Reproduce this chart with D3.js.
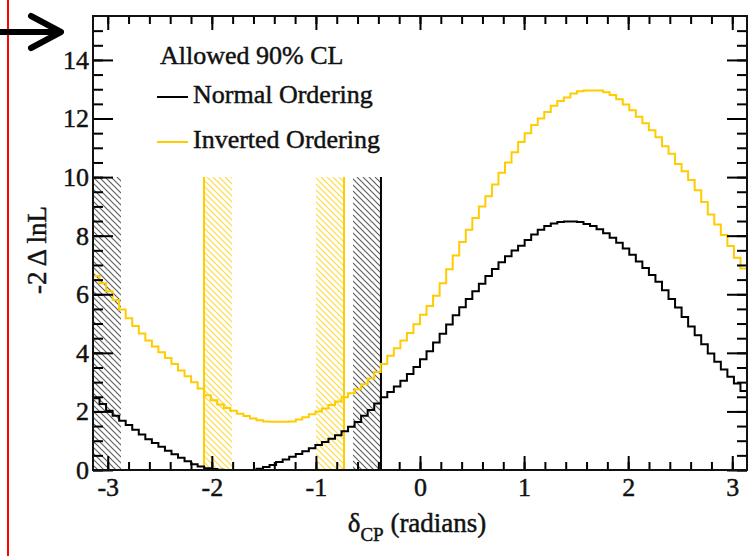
<!DOCTYPE html>
<html>
<head>
<meta charset="utf-8">
<script src="https://cdn.jsdelivr.net/npm/d3@7"></script>
<style>
  body { margin: 0; background: #fff; }
  svg { display: block; font-family: "Liberation Serif", "Times New Roman", serif; }
  svg text { stroke: #111; stroke-width: 0.45px; }
</style>
</head>
<body>
<svg id="chart" width="751" height="556"></svg>
<script>

// -2 delta lnL per delta_CP bin (100 bins over -pi..pi)
const normalOrdering = [
  2.45, 2.25, 2.02, 1.85, 1.68, 1.54, 1.37, 1.21, 1.05, 0.92,
  0.79, 0.66, 0.54, 0.42, 0.30, 0.20, 0.12, 0.06, 0.03, 0.01,
  0.00, 0.00, 0.00, 0.00, 0.00, 0.04, 0.10, 0.17, 0.27, 0.36,
  0.45, 0.55, 0.64, 0.74, 0.85, 0.96, 1.07, 1.19, 1.32, 1.48,
  1.64, 1.85, 2.05, 2.27, 2.48, 2.66, 2.85, 3.05, 3.28, 3.52,
  3.78, 4.05, 4.35, 4.65, 4.97, 5.28, 5.56, 5.84, 6.10, 6.36,
  6.62, 6.86, 7.09, 7.30, 7.49, 7.66, 7.85, 8.04, 8.20, 8.33,
  8.42, 8.47, 8.48, 8.48, 8.47, 8.40, 8.33, 8.22, 8.08, 7.93,
  7.76, 7.56, 7.35, 7.12, 6.90, 6.66, 6.43, 6.14, 5.84, 5.55,
  5.22, 4.90, 4.60, 4.29, 3.98, 3.70, 3.43, 3.18, 2.95, 2.70
]

const invertedOrdering = [
  6.62, 6.38, 6.10, 5.80, 5.48, 5.18, 4.92, 4.66, 4.42, 4.22,
  4.02, 3.82, 3.62, 3.40, 3.20, 3.00, 2.78, 2.55, 2.38, 2.24,
  2.12, 2.02, 1.92, 1.84, 1.76, 1.70, 1.66, 1.65, 1.65, 1.65,
  1.66, 1.72, 1.80, 1.90, 2.00, 2.10, 2.22, 2.34, 2.48, 2.62,
  2.76, 2.93, 3.12, 3.35, 3.62, 3.90, 4.16, 4.42, 4.68, 4.98,
  5.30, 5.60, 5.95, 6.38, 6.85, 7.32, 7.78, 8.20, 8.60, 9.00,
  9.35, 9.75, 10.15, 10.50, 10.85, 11.20, 11.50, 11.78, 12.00, 12.22,
  12.44, 12.60, 12.72, 12.85, 12.93, 12.96, 12.96, 12.96, 12.90, 12.80,
  12.66, 12.48, 12.28, 12.06, 11.84, 11.60, 11.36, 11.05, 10.80, 10.45,
  10.20, 9.90, 9.55, 9.15, 8.72, 8.38, 8.02, 7.65, 7.25, 6.88
]

// 90% CL boundaries, hatch drawn on the side given
const normalLimits = [-3.1416, -0.375]
const normalSides = [1, -1]
const invertedLimits = [-2.075, -0.73]
const invertedSides = [1, -1]
const limitHeight = 10

const xMajorTicks = [-3, -2, -1, 0, 1, 2, 3]
const yMajorTicks = [0, 2, 4, 6, 8, 10, 12, 14]

const legendTitle = "Allowed 90% CL"
const legendLabels = ["Normal Ordering", "Inverted Ordering"]

const black = "#000000",
      gold = "#ffcc00"

const svg = d3.select("#chart")

const x = d3.scaleLinear().domain([-Math.PI, Math.PI]).range([93, 747])
const y = d3.scaleLinear().domain([0, 15.5]).range([470, 16])

const xMinorTicks = d3.range(-30, 31, 2).map(d => d / 10)
const yMinorTicks = d3.range(0, 31).map(d => d / 2)

//
// Hatch patterns
//

const defs = svg.append("defs")

function hatch(id, color, opacity) {
  defs.append("pattern")
      .attr("id", id)
      .attr("patternUnits", "userSpaceOnUse")
      .attr("width", 6)
      .attr("height", 6)
    .append("path")
      .attr("d", "M-1,-1L7,7M-1,5L1,7M5,-1L7,1")
      .attr("stroke", color)
      .attr("stroke-opacity", opacity)
      .attr("stroke-width", 1.2)
}
hatch("hatch-normal", "#444", 0.85)
hatch("hatch-inverted", gold, 0.75)

defs.append("clipPath")
    .attr("id", "frame-clip")
  .append("rect")
    .attr("x", x.range()[0])
    .attr("y", y.range()[1])
    .attr("width", x.range()[1] - x.range()[0])
    .attr("height", y.range()[0] - y.range()[1])

const plot = svg.append("g").attr("clip-path", "url(#frame-clip)")

function limits(values, sides, color, pattern) {
  const bandWidth = 28
  values.forEach((v, i) => {
    const x0 = x(v)
    plot.append("rect")
        .attr("x", sides[i] > 0 ? x0 : x0 - bandWidth)
        .attr("y", y(limitHeight))
        .attr("width", bandWidth)
        .attr("height", y(0) - y(limitHeight))
        .attr("fill", "url(#" + pattern + ")")
    plot.append("line")
        .attr("x1", x0).attr("x2", x0)
        .attr("y1", y(0)).attr("y2", y(limitHeight))
        .attr("stroke", color)
        .attr("stroke-width", 2)
  })
}
limits(normalLimits, normalSides, black, "hatch-normal")
limits(invertedLimits, invertedSides, gold, "hatch-inverted")

//
// Histograms
//

function steps(values) {
  const n = values.length,
        w = 2 * Math.PI / n
  const pts = values.map((v, i) => [-Math.PI + i * w, v])
  pts.push([Math.PI, values[n - 1]])
  return pts
}

const line = d3.line()
    .x(d => x(d[0]))
    .y(d => y(d[1]))
    .curve(d3.curveStepAfter)

plot.append("path")
    .attr("d", line(steps(invertedOrdering)))
    .attr("fill", "none")
    .attr("stroke", gold)
    .attr("stroke-width", 2)

plot.append("path")
    .attr("d", line(steps(normalOrdering)))
    .attr("fill", "none")
    .attr("stroke", black)
    .attr("stroke-width", 2)

//
// Axes, ROOT style (ticks inside on all four sides)
//

function axis(gen, translate, values, size, labels) {
  const g = svg.append("g")
      .attr("transform", translate)
      .call(gen.tickValues(values).tickSize(-size)
        .tickFormat(labels ? d => String(d) : ""))
  g.select(".domain").remove()
  g.attr("font-family", null).attr("font-size", 26)
  g.selectAll("line").attr("stroke-width", 2)
  g.selectAll("text").attr("fill", "#111")
  return g
}

const frameBottom = y(0), frameTop = y.range()[1],
      frameLeft = x.range()[0], frameRight = x.range()[1]

axis(d3.axisBottom(x), `translate(0,${frameBottom})`, xMinorTicks, 8, false)
axis(d3.axisBottom(x).tickPadding(8), `translate(0,${frameBottom})`, xMajorTicks, 14, true)
axis(d3.axisTop(x), `translate(0,${frameTop})`, xMinorTicks, 8, false)
axis(d3.axisTop(x), `translate(0,${frameTop})`, xMajorTicks, 14, false)

axis(d3.axisLeft(y), `translate(${frameLeft},0)`, yMinorTicks, 10, false)
axis(d3.axisLeft(y).tickPadding(4), `translate(${frameLeft},0)`, yMajorTicks, 20, true)
axis(d3.axisRight(y), `translate(${frameRight},0)`, yMinorTicks, 10, false)
axis(d3.axisRight(y), `translate(${frameRight},0)`, yMajorTicks, 20, false)

svg.append("rect")
    .attr("x", frameLeft)
    .attr("y", frameTop)
    .attr("width", frameRight - frameLeft)
    .attr("height", frameBottom - frameTop)
    .attr("fill", "none")
    .attr("stroke", "#111")
    .attr("stroke-width", 2)

// axis titles
const xTitle = svg.append("text")
    .attr("x", 417)
    .attr("y", 532)
    .attr("text-anchor", "middle")
    .attr("font-size", 27)
    .attr("fill", "#111")
xTitle.append("tspan").text("δ")
xTitle.append("tspan").attr("font-size", 19).attr("dy", 9).text("CP")
xTitle.append("tspan").attr("dy", -9).text(" (radians)")

svg.append("text")
    .attr("transform", "translate(46,250) rotate(-90)")
    .attr("text-anchor", "middle")
    .attr("font-size", 27)
    .attr("fill", "#111")
    .text("-2 Δ lnL")

//
// Legend
//

svg.append("text")
    .attr("x", 160)
    .attr("y", 64)
    .attr("font-size", 26)
    .attr("fill", "#111")
    .text(legendTitle)

const legend = svg.append("g")
  .selectAll("g")
  .data(legendLabels)
  .enter().append("g")
    .attr("transform", (d, i) => `translate(0,${i ? 142 : 97})`)

legend.append("line")
    .attr("x1", 157).attr("x2", 188)
    .attr("stroke", (d, i) => i ? gold : black)
    .attr("stroke-width", 2)

legend.append("text")
    .attr("x", 193)
    .attr("y", 6)
    .attr("font-size", 26)
    .attr("fill", "#111")
    .text(d => d)

//
// Annotations on the page (red margin line, arrow)
//

svg.append("line")
    .attr("x1", 8).attr("x2", 8)
    .attr("y1", 0).attr("y2", 556)
    .attr("stroke", "#ff0000")
    .attr("stroke-width", 2)

svg.append("path")
    .attr("d", "M0,32L58,32M31,16L61,32L31,48")
    .attr("fill", "none")
    .attr("stroke", "#000")
    .attr("stroke-width", 6)
    .attr("stroke-linecap", "round")
    .attr("stroke-linejoin", "round")

</script>
</body>
</html>
